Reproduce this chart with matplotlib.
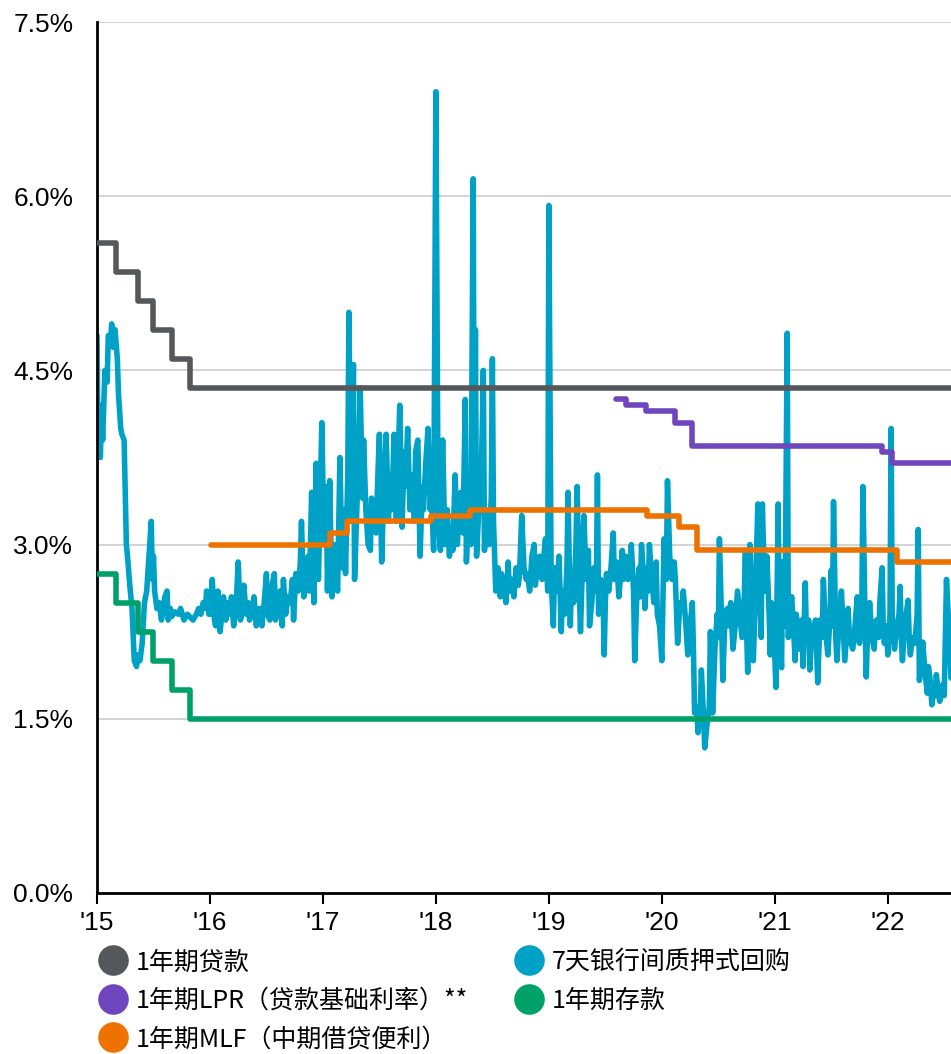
import matplotlib
matplotlib.use("Agg")
import matplotlib.pyplot as plt
from matplotlib.lines import Line2D

plt.rcParams['font.family'] = ['Liberation Sans', 'Noto Sans CJK SC', 'DejaVu Sans']

# policy rates (step series: date in decimal years, rate in %)
loan_t = [2015.0, 2015.17, 2015.36, 2015.50, 2015.66, 2015.82, 2022.56]
loan_v = [5.60, 5.35, 5.10, 4.85, 4.60, 4.35, 4.35]

deposit_t = [2015.0, 2015.17, 2015.36, 2015.50, 2015.66, 2015.82, 2022.56]
deposit_v = [2.75, 2.50, 2.25, 2.00, 1.75, 1.50, 1.50]

lpr_t = [2019.59, 2019.68, 2019.86, 2020.12, 2020.27, 2021.95, 2022.04, 2022.56]
lpr_v = [4.25, 4.20, 4.15, 4.05, 3.85, 3.80, 3.70, 3.70]

mlf_t = [2016.01, 2017.06, 2017.21, 2017.96, 2018.30, 2019.87, 2020.15, 2020.31, 2022.08, 2022.56]
mlf_v = [3.00, 3.10, 3.20, 3.25, 3.30, 3.25, 3.15, 2.95, 2.85, 2.85]

# 7-day interbank pledged repo
repo_t = [
    2015.00, 2015.01, 2015.03, 2015.04, 2015.05, 2015.07, 2015.09, 2015.10, 2015.12, 2015.13,
    2015.14, 2015.16, 2015.18, 2015.19, 2015.21, 2015.22, 2015.24, 2015.26, 2015.27, 2015.29,
    2015.31, 2015.33, 2015.35, 2015.36, 2015.38, 2015.40, 2015.42, 2015.44, 2015.46, 2015.48,
    2015.49, 2015.50, 2015.51, 2015.53, 2015.55, 2015.57, 2015.58, 2015.60, 2015.62, 2015.63,
    2015.65, 2015.66, 2015.69, 2015.72, 2015.74, 2015.77, 2015.80, 2015.82, 2015.85, 2015.88,
    2015.90, 2015.92, 2015.94, 2015.96, 2015.97, 2015.99,
    2016.00, 2016.02, 2016.04, 2016.05, 2016.07, 2016.09, 2016.11, 2016.12, 2016.14, 2016.16,
    2016.18, 2016.19, 2016.21, 2016.23, 2016.25, 2016.27, 2016.28, 2016.30, 2016.32, 2016.34,
    2016.35, 2016.37, 2016.39, 2016.41, 2016.42, 2016.44, 2016.46, 2016.48, 2016.50, 2016.51,
    2016.53, 2016.55, 2016.57, 2016.58, 2016.60, 2016.62, 2016.64, 2016.65, 2016.67, 2016.69,
    2016.71, 2016.73, 2016.74, 2016.76, 2016.78, 2016.80, 2016.81, 2016.83, 2016.85, 2016.87,
    2016.88, 2016.90, 2016.92, 2016.94, 2016.96, 2016.97, 2016.99,
    2017.01, 2017.03, 2017.04, 2017.06, 2017.08, 2017.10, 2017.12, 2017.13, 2017.15, 2017.17,
    2017.19, 2017.20, 2017.22, 2017.23, 2017.25, 2017.27, 2017.28, 2017.30, 2017.32, 2017.33,
    2017.35, 2017.36, 2017.38, 2017.40, 2017.42, 2017.43, 2017.45, 2017.47, 2017.49, 2017.50,
    2017.52, 2017.54, 2017.56, 2017.58, 2017.59, 2017.61, 2017.63, 2017.65, 2017.66, 2017.68,
    2017.70, 2017.72, 2017.73, 2017.75, 2017.77, 2017.79, 2017.81, 2017.82, 2017.84, 2017.86,
    2017.88, 2017.89, 2017.91, 2017.93, 2017.95, 2017.96, 2017.98,
    2018.00, 2018.02, 2018.04, 2018.05, 2018.06, 2018.08, 2018.10, 2018.12, 2018.13, 2018.15,
    2018.17, 2018.19, 2018.20, 2018.22, 2018.24, 2018.26, 2018.27, 2018.29, 2018.31, 2018.33,
    2018.34, 2018.35, 2018.36, 2018.38, 2018.40, 2018.42, 2018.43, 2018.45, 2018.47, 2018.49,
    2018.50, 2018.51, 2018.53, 2018.55, 2018.57, 2018.58, 2018.60, 2018.62, 2018.64, 2018.65,
    2018.67, 2018.69, 2018.71, 2018.73, 2018.74, 2018.76, 2018.78, 2018.80, 2018.81, 2018.83,
    2018.85, 2018.87, 2018.88, 2018.90, 2018.92, 2018.94, 2018.96, 2018.97, 2018.99,
    2019.00, 2019.02, 2019.04, 2019.05, 2019.07, 2019.09, 2019.11, 2019.12, 2019.14, 2019.16,
    2019.17, 2019.19, 2019.20, 2019.22, 2019.24, 2019.25, 2019.27, 2019.28, 2019.30, 2019.31,
    2019.33, 2019.35, 2019.36, 2019.38, 2019.40, 2019.42, 2019.43, 2019.44, 2019.46, 2019.48,
    2019.49, 2019.50, 2019.51, 2019.53, 2019.55, 2019.57, 2019.58, 2019.60, 2019.62, 2019.64,
    2019.65, 2019.66, 2019.68, 2019.70, 2019.72, 2019.73, 2019.75, 2019.76, 2019.78, 2019.80,
    2019.81, 2019.82, 2019.84, 2019.85, 2019.87, 2019.88, 2019.89, 2019.91, 2019.93, 2019.95,
    2019.96, 2019.98,
    2020.00, 2020.02, 2020.04, 2020.05, 2020.07, 2020.09, 2020.11, 2020.12, 2020.14, 2020.16,
    2020.18, 2020.19, 2020.21, 2020.23, 2020.25, 2020.27, 2020.28, 2020.29, 2020.31, 2020.32,
    2020.34, 2020.35, 2020.37, 2020.38, 2020.40, 2020.42, 2020.43, 2020.45, 2020.47, 2020.49,
    2020.50, 2020.51, 2020.53, 2020.54, 2020.56, 2020.58, 2020.59, 2020.61, 2020.63, 2020.65,
    2020.67, 2020.69, 2020.71, 2020.73, 2020.74, 2020.75, 2020.76, 2020.78, 2020.80, 2020.81,
    2020.83, 2020.85, 2020.87, 2020.88, 2020.89, 2020.91, 2020.93, 2020.95, 2020.96, 2020.97,
    2020.99,
    2021.01, 2021.03, 2021.04, 2021.06, 2021.07, 2021.09, 2021.11, 2021.12, 2021.13, 2021.15,
    2021.17, 2021.18, 2021.19, 2021.20, 2021.22, 2021.24, 2021.25, 2021.27, 2021.28, 2021.30,
    2021.31, 2021.33, 2021.35, 2021.36, 2021.37, 2021.38, 2021.40, 2021.42, 2021.43, 2021.45,
    2021.47, 2021.49, 2021.50, 2021.51, 2021.52, 2021.54, 2021.55, 2021.57, 2021.59, 2021.61,
    2021.62, 2021.64, 2021.65, 2021.66, 2021.69, 2021.71, 2021.73, 2021.74, 2021.75, 2021.77,
    2021.78, 2021.80, 2021.81, 2021.82, 2021.84, 2021.86, 2021.88, 2021.89, 2021.90, 2021.92,
    2021.93, 2021.95, 2021.96, 2021.97, 2021.99,
    2022.00, 2022.02, 2022.03, 2022.04, 2022.06, 2022.08, 2022.10, 2022.11, 2022.12, 2022.13,
    2022.15, 2022.18, 2022.19, 2022.20, 2022.22, 2022.24, 2022.26, 2022.27, 2022.28, 2022.30,
    2022.31, 2022.33, 2022.35, 2022.36, 2022.38, 2022.39, 2022.41, 2022.42, 2022.43, 2022.45,
    2022.46, 2022.48, 2022.49, 2022.50, 2022.52, 2022.54, 2022.56,
]
repo_v = [
    4.80, 3.80, 3.75, 4.20, 3.90, 4.50, 4.40, 4.80, 4.75, 4.90,
    4.70, 4.85, 4.60, 4.30, 4.00, 3.95, 3.90, 3.00, 2.90, 2.65,
    2.45, 2.00, 1.95, 2.05, 2.00, 2.15, 2.50, 2.60, 2.90, 3.20,
    2.70, 2.90, 2.60, 2.45, 2.50, 2.35, 2.40, 2.55, 2.60, 2.35,
    2.45, 2.38, 2.42, 2.40, 2.45, 2.35, 2.40, 2.38, 2.35, 2.40,
    2.45, 2.40, 2.50, 2.45, 2.60, 2.40,
    2.40, 2.70, 2.35, 2.30, 2.60, 2.25, 2.45, 2.55, 2.35, 2.50,
    2.40, 2.55, 2.30, 2.45, 2.85, 2.35, 2.40, 2.65, 2.40, 2.50,
    2.35, 2.40, 2.55, 2.30, 2.35, 2.45, 2.30, 2.50, 2.75, 2.40,
    2.35, 2.65, 2.75, 2.35, 2.45, 2.60, 2.30, 2.70, 2.40, 2.55,
    2.50, 2.70, 2.35, 2.75, 2.60, 2.85, 3.20, 2.55, 2.70, 2.90,
    2.60, 3.45, 2.50, 3.70, 2.70, 3.10, 4.05,
    3.00, 3.50, 2.60, 3.55, 2.55, 3.00, 2.70, 2.60, 3.75, 2.80,
    3.30, 2.75, 3.60, 5.00, 3.20, 4.55, 2.70, 3.30, 3.90, 4.35,
    3.40, 3.90, 3.30, 3.00, 2.95, 3.40, 3.30, 3.10, 3.70, 3.95,
    2.85, 3.50, 3.95, 3.20, 3.60, 3.30, 3.95, 3.20, 3.50, 4.20,
    3.15, 3.80, 3.50, 4.00, 3.30, 3.60, 3.20, 3.80, 3.90, 2.90,
    3.50, 3.30, 3.70, 4.00, 3.30, 3.50, 2.95,
    6.90, 3.20, 2.95, 3.50, 3.90, 3.00, 3.30, 2.90, 3.10, 2.95,
    3.60, 3.00, 3.20, 3.45, 3.10, 4.25, 2.85, 3.30, 3.00, 6.15,
    3.30, 4.85, 2.90, 3.30, 3.50, 4.50, 2.95, 3.30, 3.00, 3.40,
    4.60, 3.20, 2.60, 2.80, 2.55, 2.75, 2.65, 2.50, 2.85, 2.60,
    2.70, 2.55, 2.80, 2.65, 2.75, 3.25, 2.80, 2.70, 2.75, 2.60,
    2.90, 3.00, 2.65, 2.80, 2.90, 2.70, 2.95, 3.05, 2.60,
    5.92, 2.70, 2.30, 2.80, 2.60, 2.90, 2.25, 2.60, 2.40, 2.80,
    3.45, 2.30, 2.70, 2.50, 3.00, 3.50, 2.60, 2.25, 2.90, 3.25,
    2.70, 2.95, 2.30, 2.50, 2.80, 2.60, 3.60, 2.40, 2.70, 2.55,
    2.05, 2.50, 2.75, 2.60, 2.80, 3.10, 2.70, 2.85, 2.55, 2.80,
    2.95, 2.70, 2.90, 2.70, 2.80, 3.00, 2.60, 2.00, 2.60, 2.80,
    2.55, 3.00, 2.70, 2.45, 2.80, 2.60, 3.00, 2.70, 2.50, 2.85,
    2.40, 2.30,
    2.00, 3.05, 2.70, 3.55, 2.90, 2.70, 2.85, 2.70, 2.15, 2.50,
    2.45, 2.60, 2.35, 2.05, 2.30, 2.50, 2.10, 1.55, 1.60, 1.38,
    1.55, 1.92, 1.50, 1.25, 1.45, 1.60, 2.25, 1.55, 2.10, 2.40,
    2.20, 3.05, 2.30, 1.83, 2.40, 2.45, 2.30, 2.50, 2.10, 2.30,
    2.60, 2.40, 2.20, 2.55, 2.95, 2.30, 1.90, 3.00, 2.40, 2.00,
    2.60, 3.35, 2.50, 2.20, 3.35, 2.60, 2.90, 2.40, 2.05, 2.50,
    2.30,
    1.77, 3.35, 2.40, 1.94, 2.85, 2.30, 4.82, 2.20, 2.40, 2.55,
    2.20, 2.00, 2.40, 2.30, 2.10, 2.35, 1.95, 2.67, 2.20, 2.35,
    1.92, 2.30, 2.15, 2.35, 2.10, 1.81, 2.35, 2.20, 2.70, 2.25,
    2.05, 2.40, 2.78, 2.30, 3.37, 2.20, 2.00, 2.35, 2.60, 2.20,
    2.00, 2.30, 2.45, 2.20, 2.10, 2.30, 2.55, 2.20, 2.15, 2.40,
    3.50, 2.30, 1.86, 2.20, 2.50, 2.20, 2.10, 2.30, 2.35, 2.20,
    2.50, 2.80, 2.30, 2.15, 2.30,
    2.05, 2.40, 4.00, 2.30, 2.10, 2.30, 2.40, 2.64, 2.20, 2.00,
    2.30, 2.52, 2.20, 2.05, 2.20, 2.15, 2.40, 3.13, 1.83, 2.00,
    2.16, 1.90, 1.72, 1.95, 1.80, 1.62, 1.75, 1.70, 1.88, 1.70,
    1.65, 1.75, 1.80, 1.70, 2.70, 2.30, 1.85,
]

year_ticks = [2015, 2016, 2017, 2018, 2019, 2020, 2021, 2022]
year_labels = ["'15", "'16", "'17", "'18", "'19", "'20", "'21", "'22"]
y_ticks = [0.0, 1.5, 3.0, 4.5, 6.0, 7.5]

c_loan = '#54585a'
c_repo = '#00a1c6'
c_lpr = '#7046be'
c_mlf = '#ed7200'
c_dep = '#00a169'

fig = plt.figure(figsize=(9.51, 10.54), dpi=100)
ax = fig.add_axes([0.102, 0.1528, 0.898, 0.8263])

lw = 4.0
ax.plot(repo_t, repo_v, color=c_repo, lw=lw, solid_joinstyle='round',
        solid_capstyle='round', zorder=2)
for t, v, c in [(loan_t, loan_v, c_loan), (deposit_t, deposit_v, c_dep),
                (lpr_t, lpr_v, c_lpr), (mlf_t, mlf_v, c_mlf)]:
    ax.plot(t, v, drawstyle='steps-post', color=c, lw=lw,
            solid_capstyle='round', solid_joinstyle='round', zorder=3)

ax.set_xlim(2015.0, 2022.56)
ax.set_ylim(0, 7.5)
ax.set_yticks(y_ticks)
ax.set_yticklabels([f'{v:.1f}%' for v in y_ticks])
ax.set_xticks(year_ticks)
ax.set_xticklabels(year_labels)
ax.grid(axis='y', color='#cccccc', lw=1.2, zorder=0)
ax.set_axisbelow(True)
for s in ['top', 'right']:
    ax.spines[s].set_visible(False)
for s in ['left', 'bottom']:
    ax.spines[s].set_color('black')
    ax.spines[s].set_linewidth(2)
ax.spines['bottom'].set_zorder(4)
ax.tick_params(axis='y', length=0, pad=17, labelsize=19)
ax.tick_params(axis='x', length=8, width=1.5, direction='out', pad=5, labelsize=19)

handles = [
    Line2D([], [], ls='', marker='o', ms=21, color=c_loan, label='1年期贷款'),
    Line2D([], [], ls='', marker='o', ms=21, color=c_lpr, label='1年期LPR（贷款基础利率）**'),
    Line2D([], [], ls='', marker='o', ms=21, color=c_mlf, label='1年期MLF（中期借贷便利）'),
    Line2D([], [], ls='', marker='o', ms=21, color=c_repo, label='7天银行间质押式回购'),
    Line2D([], [], ls='', marker='o', ms=21, color=c_dep, label='1年期存款'),
]
fig.legend(handles=handles, ncol=2, loc='upper left', bbox_to_anchor=(0.095, 0.109),
           frameon=False, handlelength=1.0, handletextpad=0.4, columnspacing=1.95,
           labelspacing=0.5, borderaxespad=0,
           prop={'family': ['Noto Sans CJK SC', 'DejaVu Sans'], 'size': 18})

fig.savefig('out.png', dpi=100)
